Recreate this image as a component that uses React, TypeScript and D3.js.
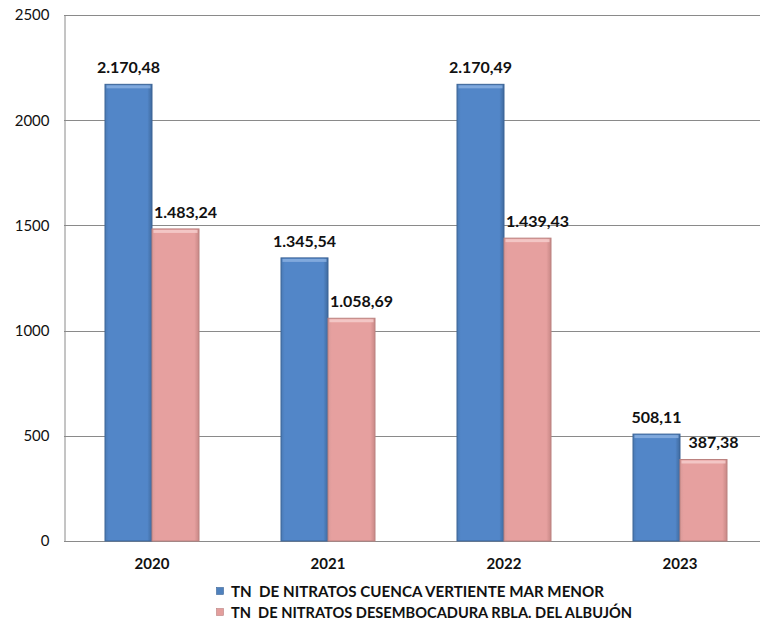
import React, { useEffect, useRef } from 'react';
import { axisLeft, format, scaleBand, scaleLinear, select } from 'd3';

const years = ['2020', '2021', '2022', '2023'];
const cuenca = [2170.48, 1345.54, 2170.49, 508.11];
const albujon = [1483.24, 1058.69, 1439.43, 387.38];
const seriesNames = [
  'TN  DE NITRATOS CUENCA VERTIENTE MAR MENOR',
  'TN  DE NITRATOS DESEMBOCADURA RBLA. DEL ALBUJÓN',
];
const ticks = [0, 500, 1000, 1500, 2000, 2500];

const W = 760;
const H = 628;
const FONT = 'Lato, "Open Sans", sans-serif';

// Spanish style number: 2.170,48
const esNum = (v: number) => {
  const s = format(',.2f')(v);
  return s.replace(/,/g, '#').replace('.', ',').replace(/#/g, '.');
};

const App: React.FC = () => {
  const svgRef = useRef<SVGSVGElement>(null);

  useEffect(() => {
    const svg = select(svgRef.current);
    svg.selectAll('*').remove();

    const left = 64;
    const right = 768;
    const top = 15;
    const bottom = 541;

    const x = scaleBand().domain(years).range([left, right]);
    const y = scaleLinear().domain([0, 2500]).range([bottom, top]);
    const barW = 47;

    const defs = svg.append('defs');
    const grad = (id: string, c0: string, c1: string, c2: string) => {
      const g = defs.append('linearGradient').attr('id', id).attr('x1', 0).attr('x2', 1).attr('y1', 0).attr('y2', 0);
      g.append('stop').attr('offset', '0%').attr('stop-color', c0);
      g.append('stop').attr('offset', '8%').attr('stop-color', c1);
      g.append('stop').attr('offset', '90%').attr('stop-color', c1);
      g.append('stop').attr('offset', '100%').attr('stop-color', c2);
    };
    grad('gBlue', '#4a7ab4', '#5286c8', '#3f6a9e');
    grad('gPink', '#d99a99', '#e6a09f', '#c88886');

    // gridlines
    svg.append('g')
      .selectAll('line')
      .data(ticks.filter(t => t > 0))
      .join('line')
      .attr('x1', left)
      .attr('x2', right)
      .attr('y1', d => Math.round(y(d)) + 0.5)
      .attr('y2', d => Math.round(y(d)) + 0.5)
      .attr('stroke', '#8a8a8a')
      .attr('stroke-width', 1);

    // y axis
    const ax = svg.append('g')
      .attr('transform', `translate(${left + 0.5},0)`)
      .call(axisLeft(y).tickValues(ticks).tickSize(0).tickPadding(15).tickFormat(d => String(d)));
    ax.select('.domain').attr('stroke', '#8a8a8a');
    ax.selectAll('text')
      .attr('font-family', FONT)
      .attr('font-size', 15)
      .attr('fill', '#111');

    // baseline
    svg.append('line')
      .attr('x1', left).attr('x2', right)
      .attr('y1', bottom + 0.5).attr('y2', bottom + 0.5)
      .attr('stroke', '#8a8a8a');

    const series = [
      { vals: cuenca, fill: 'url(#gBlue)', stroke: '#3c6496', hi: '#8cb2e2', off: -barW, lab: 0 },
      { vals: albujon, fill: 'url(#gPink)', stroke: '#bb8280', hi: '#f6cfce', off: 0, lab: 10 },
    ];

    series.forEach(s => {
      const g = svg.append('g');
      const cx = (d: string) => (x(d) ?? 0) + x.bandwidth() / 2 + s.off;
      g.selectAll('rect.bar')
        .data(years)
        .join('rect')
        .attr('class', 'bar')
        .attr('x', d => cx(d))
        .attr('y', (d, i) => y(s.vals[i]))
        .attr('width', barW)
        .attr('height', (d, i) => bottom - y(s.vals[i]))
        .attr('fill', s.fill)
        .attr('stroke', s.stroke)
        .attr('stroke-width', 1);
      // top bevel highlight
      g.selectAll('rect.hi')
        .data(years)
        .join('rect')
        .attr('class', 'hi')
        .attr('x', d => cx(d) + 1.5)
        .attr('y', (d, i) => y(s.vals[i]) + 1)
        .attr('width', barW - 3)
        .attr('height', 3)
        .attr('fill', s.hi)
        .attr('opacity', 0.8);
      g.selectAll('text')
        .data(years)
        .join('text')
        .attr('x', d => cx(d) + barW / 2 + s.lab)
        .attr('y', (d, i) => y(s.vals[i]) - 11)
        .attr('text-anchor', 'middle')
        .attr('font-family', FONT)
        .attr('font-weight', 'bold')
        .attr('font-size', 16)
        .attr('fill', '#111')
        .text((d, i) => esNum(s.vals[i]));
    });

    // category labels
    svg.append('g')
      .selectAll('text')
      .data(years)
      .join('text')
      .attr('x', d => (x(d) ?? 0) + x.bandwidth() / 2)
      .attr('y', 569)
      .attr('text-anchor', 'middle')
      .attr('font-family', FONT)
      .attr('font-weight', 'bold')
      .attr('font-size', 15)
      .attr('fill', '#111')
      .text(d => d);

    // legend
    const lg = svg.append('g');
    const colors = [
      { f: '#4f81bd', s: '#3c6496' },
      { f: '#e39e9c', s: '#bb8280' },
    ];
    seriesNames.forEach((n, i) => {
      const yy = 592 + i * 21;
      lg.append('rect')
        .attr('x', 216.5).attr('y', yy - 4.5)
        .attr('width', 7).attr('height', 7)
        .attr('fill', colors[i].f)
        .attr('stroke', colors[i].s)
        .attr('stroke-width', 0.6);
      lg.append('text')
        .attr('x', 231)
        .attr('y', yy + 5)
        .attr('font-family', FONT)
        .attr('font-weight', 'bold')
        .attr('font-size', 15)
        .attr('fill', '#111')
        .style('white-space', 'pre')
        .attr('textLength', i === 0 ? 373 : 401)
        .attr('lengthAdjust', 'spacingAndGlyphs')
        .text(n);
    });
  }, []);

  return (
    <svg
      ref={svgRef}
      width={W}
      height={H}
      style={{ position: 'absolute', left: 0, top: 0, background: '#fff' }}
    />
  );
};

export default App;
